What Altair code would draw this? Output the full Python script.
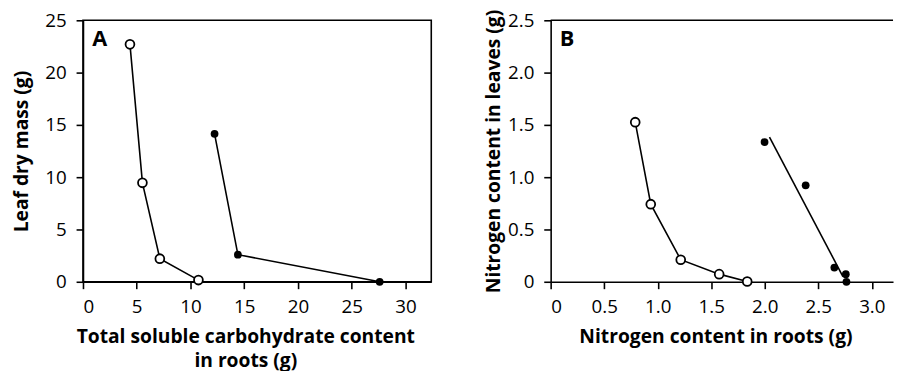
import altair as alt
import pandas as pd

# Panel A
a_open_x = [4.37, 5.53, 7.15, 10.74]
a_open_y = [22.7, 9.46, 2.21, 0.16]
a_fill_x = [12.24, 14.41, 27.6]
a_fill_y = [14.15, 2.59, 0.0]
a_ticks_x = [0, 5, 10, 15, 20, 25, 30]
a_ticks_y = [0, 5, 10, 15, 20, 25]

# Panel B
b_open_x = [0.79, 0.935, 1.215, 1.574, 1.836]
b_open_y = [1.526, 0.742, 0.211, 0.073, 0.003]
b_fill_x = [1.998, 2.382, 2.65, 2.757, 2.763]
b_fill_y = [1.336, 0.922, 0.136, 0.073, 0.0]
b_fit_x = [2.044, 2.73]
b_fit_y = [1.384, 0.05]
b_ticks_x = [0, 0.5, 1.0, 1.5, 2.0, 2.5, 3.0]
b_ticks_y = [0, 0.5, 1.0, 1.5, 2.0, 2.5]

FONT = "Open Sans"
LW = 1.6
TFS = 19.5

a_open = pd.DataFrame({"x": a_open_x, "y": a_open_y})
a_fill = pd.DataFrame({"x": a_fill_x, "y": a_fill_y})
b_open = pd.DataFrame({"x": b_open_x, "y": b_open_y})
b_fill = pd.DataFrame({"x": b_fill_x, "y": b_fill_y})
b_fit = pd.DataFrame({"x": b_fit_x, "y": b_fit_y})


def axis(values, title, fmt_expr=None, **kw):
    args = dict(values=values, title=title, grid=False, domainColor="black",
                domainWidth=LW, tickColor="black", tickWidth=LW, tickSize=7,
                labelFont=FONT, labelFontSize=19, labelColor="black",
                titleFont=FONT, titleFontSize=TFS, titleFontWeight="bold",
                titleColor="black")
    if fmt_expr:
        args["labelExpr"] = fmt_expr
    args.update(kw)
    return alt.Axis(**args)


def panel(open_df, fill_df, xdom, ydom, xax, yax, label, lab_x, lab_y, w, fit_df=None, connect_fill=True):
    xs = alt.Scale(domain=xdom, nice=False, zero=False)
    ys = alt.Scale(domain=ydom, nice=False, zero=False)
    X = alt.X("x:Q", scale=xs, axis=xax)
    Y = alt.Y("y:Q", scale=ys, axis=yax)
    layers = []
    layers.append(alt.Chart(open_df).mark_line(color="black", strokeWidth=LW).encode(x=X, y=Y))
    if connect_fill:
        layers.append(alt.Chart(fill_df).mark_line(color="black", strokeWidth=LW).encode(x="x:Q", y="y:Q"))
    if fit_df is not None:
        layers.append(alt.Chart(fit_df).mark_line(color="black", strokeWidth=LW).encode(x="x:Q", y="y:Q"))
    layers.append(alt.Chart(open_df).mark_circle(fill="white", stroke="black", strokeWidth=1.8,
                                                 size=80, opacity=1).encode(x="x:Q", y="y:Q"))
    layers.append(alt.Chart(fill_df).mark_circle(color="black", size=62, opacity=1).encode(x="x:Q", y="y:Q"))
    lab = pd.DataFrame({"x": [lab_x], "y": [lab_y], "t": [label]})
    layers.append(alt.Chart(lab).mark_text(font=FONT, fontSize=22, fontWeight="bold", align="left",
                                           baseline="alphabetic", color="black")
                  .encode(x="x:Q", y="y:Q", text="t:N"))
    return alt.layer(*layers).properties(width=w, height=265)


fmt1 = "datum.value == 0 ? '0' : format(datum.value, '.1f')"

chart_a = panel(
    a_open, a_fill, [0, 32.4], [0, 25],
    axis(a_ticks_x, ["Total soluble carbohydrate content", "in roots (g)"], labelPadding=9,
         titlePadding=12, titleX=164.5, titleLineHeight=24),
    axis(a_ticks_y, "Leaf dry mass (g)", labelPadding=10, titlePadding=13),
    "A", 0.87, 22.57, 353,
)

chart_b = panel(
    b_open, b_fill, [0, 3.198], [0, 2.5],
    axis(b_ticks_x, "Nitrogen content in roots (g)", fmt1, labelPadding=9,
         titlePadding=12, titleX=167),
    axis(b_ticks_y, "Nitrogen content in leaves (g)", fmt1, labelPadding=10, titlePadding=4),
    "B", 0.085, 2.256, 347, fit_df=b_fit, connect_fill=False,
)
top_rule = alt.Chart(pd.DataFrame({"y": [2.5]})).mark_rule(color="black", strokeWidth=LW).encode(y="y:Q")
chart_b = alt.layer(chart_b, top_rule).properties(view=alt.ViewBackground(stroke="transparent"))

chart = alt.hconcat(chart_a, chart_b, spacing=51).properties(
    padding={"left": 3, "top": -3, "right": 0, "bottom": 0}
).configure_view(stroke="black", strokeWidth=LW)

chart.save("out.html", embed_options={"renderer": "svg", "actions": False})
